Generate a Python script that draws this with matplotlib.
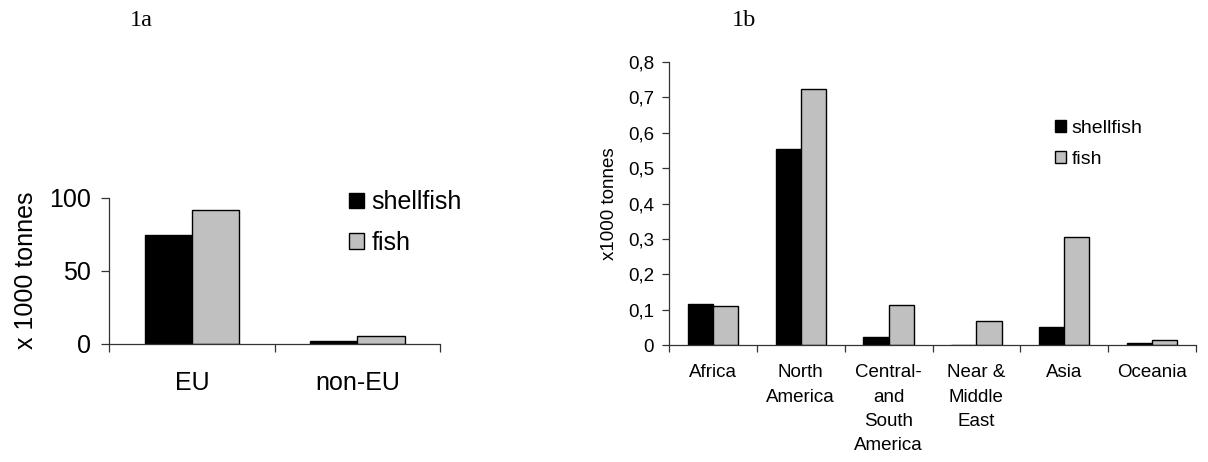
import matplotlib
matplotlib.use("Agg")
import matplotlib.pyplot as plt
import numpy as np

plt.rcParams['font.family'] = ['Liberation Sans', 'DejaVu Sans']

# panel 1a
regions_a = ["EU", "non-EU"]
shellfish_a = [74.5, 1.8]
fish_a = [91.8, 5.5]
yticks_a = [0, 50, 100]

# panel 1b
regions_b = ["Africa", "North\nAmerica", "Central-\nand\nSouth\nAmerica",
             "Near &\nMiddle\nEast", "Asia", "Oceania"]
shellfish_b = [0.115, 0.555, 0.022, 0.0, 0.052, 0.005]
fish_b = [0.110, 0.723, 0.114, 0.068, 0.304, 0.013]
yticks_b = [0, 0.1, 0.2, 0.3, 0.4, 0.5, 0.6, 0.7, 0.8]
ytick_labels_b = ["0", "0,1", "0,2", "0,3", "0,4", "0,5", "0,6", "0,7", "0,8"]

FISH = "#c0c0c0"
W = 1 / 3.5

fig = plt.figure(figsize=(12.08, 4.62), dpi=100)


def draw(ax, cats, shell, fish, fs, tick_len, ypad, xpad):
    n = len(cats)
    x = np.arange(n) + 0.5
    ax.bar(x - W / 2, shell, W, color="black", edgecolor="black", linewidth=1.0, label="shellfish")
    ax.bar(x + W / 2, fish, W, color=FISH, edgecolor="black", linewidth=1.0, label="fish")
    ax.set_xlim(0, n)
    for s in ["top", "right"]:
        ax.spines[s].set_visible(False)
    for s in ["left", "bottom"]:
        ax.spines[s].set_linewidth(0.9)
        ax.spines[s].set_color("#333333")
    ax.set_xticks(np.arange(n + 1))
    ax.set_xticklabels([])
    ax.set_xticks(x, minor=True)
    ax.set_xticklabels(cats, minor=True, fontsize=fs, linespacing=1.55)
    ax.tick_params(axis="x", which="major", direction="out", length=tick_len, width=0.9, color="#333333")
    ax.tick_params(axis="x", which="minor", length=0, pad=xpad)
    ax.tick_params(axis="y", direction="out", length=tick_len, width=0.9, color="#333333",
                   labelsize=fs, pad=ypad)


# ---- 1a
ax1 = fig.add_axes([0.0905, 0.2561, 0.2737, 0.3160])
draw(ax1, regions_a, shellfish_a, fish_a, 18, 5.5, 8, 20)
ax1.set_ylim(0, 100)
ax1.set_yticks(yticks_a)
ax1.set_ylabel("x 1000 tonnes", fontsize=18)
ax1.yaxis.set_label_coords(-0.215, 0.5)
ax1.legend(loc="upper left", bbox_to_anchor=(0.2889, 0.588), bbox_transform=fig.transFigure,
           frameon=False, fontsize=18, handlelength=0.6, handleheight=0.6,
           handletextpad=0.3, labelspacing=0.67, borderpad=0, borderaxespad=0)

# ---- 1b
ax2 = fig.add_axes([0.5538, 0.2532, 0.4363, 0.6126])
draw(ax2, regions_b, shellfish_b, fish_b, 13.5, 4.8, 6, 14)
ax2.set_ylim(0, 0.8)
ax2.set_yticks(yticks_b)
ax2.set_yticklabels(ytick_labels_b)
ax2.set_ylabel("x1000 tonnes", fontsize=13.5)
ax2.yaxis.set_label_coords(-0.097, 0.5)
ax2.legend(loc="upper left", bbox_to_anchor=(0.8733, 0.740), bbox_transform=fig.transFigure,
           frameon=False, fontsize=14, handlelength=0.57, handleheight=0.57,
           handletextpad=0.3, labelspacing=0.73, borderpad=0, borderaxespad=0)

fig.text(141.7 / 1208, 1 - 26 / 462, "1a", family="Liberation Serif", fontsize=17.5,
         ha="center", va="baseline")
fig.text(744 / 1208, 1 - 26 / 462, "1b", family="Liberation Serif", fontsize=17.5,
         ha="center", va="baseline")

fig.savefig("out.png", dpi=100)
